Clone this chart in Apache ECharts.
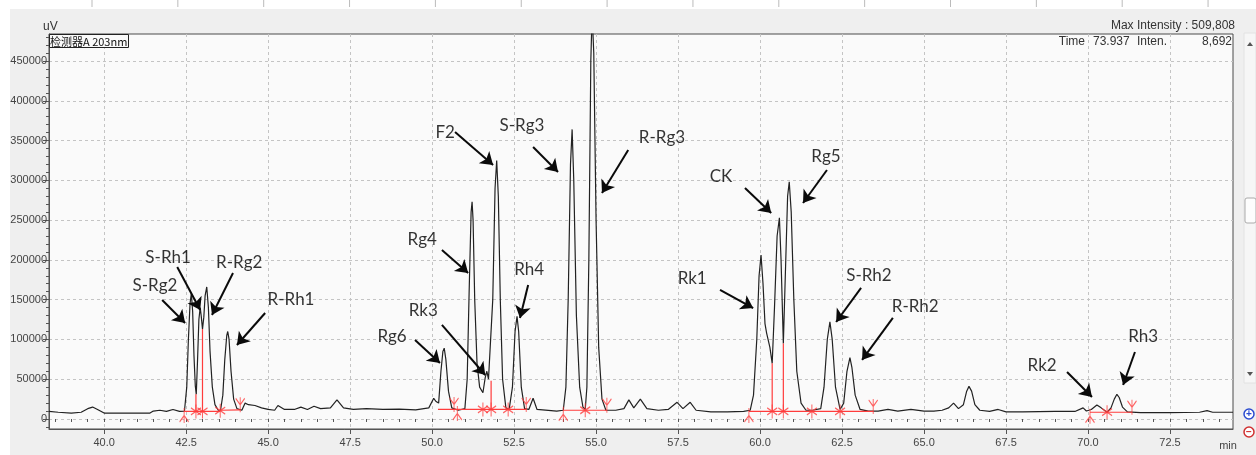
<!DOCTYPE html>
<html>
<head>
<meta charset="utf-8">
<script src="https://cdn.jsdelivr.net/npm/echarts@6/dist/echarts.min.js"></script>
<style>
html,body{margin:0;padding:0;background:#fff;}
#chart{width:1256px;height:455px;}
</style>
</head>
<body>
<div id="chart"></div>
<script>
// chromatogram trace: time (min) / signal (uV)
var traceTime = [38.32,38.60,39.00,39.30,39.50,39.65,39.80,40.00,41.40,41.50,41.70,41.90,42.10,42.30,42.45,42.52,42.57,42.62,42.66,42.70,42.74,42.78,42.81,42.85,42.89,42.93,42.96,43.00,43.04,43.08,43.13,43.18,43.23,43.30,43.38,43.48,43.55,43.62,43.68,43.74,43.77,43.81,43.87,43.95,44.05,44.20,44.30,44.40,44.60,44.80,45.00,45.20,45.30,45.50,45.80,46.00,46.20,46.40,46.60,46.90,47.10,47.30,47.60,48.00,48.50,49.00,49.50,49.90,50.05,50.12,50.20,50.27,50.33,50.37,50.42,50.50,50.60,50.80,51.00,51.07,51.13,51.19,51.22,51.25,51.30,51.37,51.45,51.55,51.62,51.67,51.72,51.78,51.85,51.92,51.97,52.02,52.08,52.15,52.25,52.35,52.45,52.53,52.59,52.64,52.72,52.82,52.95,53.08,53.20,53.80,54.00,54.08,54.15,54.22,54.27,54.32,54.40,54.50,54.60,54.67,54.72,54.78,54.84,54.88,54.93,55.00,55.08,55.18,55.30,55.60,55.85,56.00,56.15,56.35,56.55,56.90,57.20,57.47,57.65,57.87,58.05,58.50,59.00,59.50,59.70,59.80,59.90,59.97,60.03,60.09,60.15,60.20,60.24,60.30,60.37,60.44,60.52,60.59,60.64,60.71,60.77,60.84,60.89,60.95,61.03,61.12,61.25,61.40,61.60,61.85,61.95,62.05,62.13,62.20,62.30,62.44,62.55,62.65,62.74,62.80,62.90,63.05,63.30,63.60,63.90,64.20,64.60,65.00,65.30,65.55,65.75,65.90,66.05,66.20,66.30,66.37,66.45,66.55,66.70,67.00,67.26,67.50,68.00,69.00,69.60,69.85,69.95,70.10,70.27,70.40,70.58,70.70,70.80,70.88,70.95,71.05,71.20,71.60,72.50,73.40,73.63,73.80,74.42];
var traceSignal = [9500,8500,7500,8500,13000,15000,12000,7500,7500,10000,11000,9500,12000,9500,10000,40000,100000,145000,158000,135000,80000,42000,31000,75000,125000,140000,130000,113000,128000,155000,166000,140000,85000,40000,18000,11000,11000,30000,75000,105000,110000,100000,60000,25000,13000,11000,20000,18000,17000,14000,12000,11000,17000,12000,12000,15000,12000,16000,13000,14000,24000,14000,12000,13000,12000,12500,11500,14000,26000,22000,20000,60000,85000,89000,75000,35000,14000,11000,13000,50000,160000,260000,273000,250000,150000,70000,40000,33000,52000,60000,50000,48000,150000,290000,325000,280000,150000,50000,14000,12000,40000,110000,129000,110000,40000,13000,12000,26000,12000,10000,11000,40000,150000,320000,364000,300000,130000,40000,15000,12000,40000,200000,450000,509808,460000,250000,90000,25000,11000,11000,13000,24000,14000,25000,13000,11000,12000,21000,13000,21000,11000,9000,9000,9500,11000,30000,100000,180000,206000,170000,120000,108000,108000,90000,70000,140000,230000,253000,200000,95000,180000,280000,298000,260000,150000,60000,20000,11000,11000,13000,40000,100000,122000,100000,40000,12000,20000,60000,77000,65000,30000,12000,10000,10000,12000,10000,12000,10000,10000,11000,14000,20000,13000,18000,35000,41000,35000,18000,11000,9500,12000,9000,9000,9500,9500,14000,10000,12000,17500,14000,8500,14000,25000,31000,27000,15000,9000,8000,8000,8500,10500,8500,8500];

// peak annotations: name, label centre, arrow start, arrow tip (time, uV)
var peakNames = ['S-Rg2','S-Rh1','R-Rg2','R-Rh1','Rg6','Rg4','Rk3','F2','S-Rg3','Rh4','R-Rg3','Rk1','CK','Rg5','S-Rh2','R-Rh2','Rk2','Rh3'];
var labelPos = [[41.55,167200],[41.95,202400],[44.12,196100],[45.70,149600],[48.78,104300],[49.70,225000],[49.73,135800],[50.40,359500],[52.74,368300],[52.96,187300],[57.01,353200],[57.93,176000],[58.81,304200],[62.01,329300],[63.32,179800],[64.73,140800],[68.60,66600],[71.68,103100]];
var arrowFrom = [[41.77,149600],[42.23,191100],[43.93,183500],[44.91,133200],[49.48,99300],[50.30,212400],[50.30,118200],[50.70,360800],[53.08,341900],[52.93,168400],[55.98,338100],[58.78,162200],[59.54,290400],[62.04,313000],[63.08,164700],[64.05,127000],[69.36,59100],[71.43,84200]];
var arrowTo = [[42.47,120700],[42.93,137000],[43.29,130700],[44.05,93000],[50.24,70400],[51.10,183500],[51.62,55300],[51.86,319300],[53.84,310500],[52.68,127000],[55.18,284100],[59.79,139500],[60.34,258900],[61.31,271500],[62.32,121900],[63.11,74200],[70.12,27700],[71.07,42700]];

// integration baselines [t1, v1, t2, v2] and drop lines [t, from, to]
var baseSegments = [[42.44,9500,43.54,9500],[43.54,11000,44.15,11500],[50.18,12000,52.87,12000],[54.00,11000,55.33,11000],[59.66,9500,63.45,9500],[70.06,8500,71.34,8500]];
var dropLines = [[42.80,9500,31000],[43.00,9500,113000],[51.80,12000,48000],[60.37,9500,70000],[60.71,9500,95000]];
var startMarks = [[42.44,9500],[50.77,12000],[54.00,11000],[59.66,9500],[70.06,8500]];
var splitMarks = [[42.80,9500],[43.00,9500],[43.54,10500],[51.55,12000],[51.80,12000],[52.32,12000],[54.67,11000],[60.37,9500],[60.71,9500],[61.58,9500],[62.44,9500],[70.58,8500]];
var endMarks = [[44.15,11500],[50.67,12000],[52.87,12000],[55.33,11000],[63.45,9500],[71.34,8500]];

// axis ticks
var xMajorTicks = [40,42.5,45,47.5,50,52.5,55,57.5,60,62.5,65,67.5,70,72.5];
var yMajorTicks = [0,50000,100000,150000,200000,250000,300000,350000,400000,450000];
var xMinorTicks = [];
for (var i = 0; i < 73; i++) xMinorTicks.push(38.5 + i * 0.5);
var yMinorTicks = [];
for (var j = -1; j <= 48; j++) yMinorTicks.push(j * 10000);

var FONT = "'Liberation Sans Narrow','Liberation Sans',Arial,sans-serif";
var RED = '#ff3c3c';
var xMin = 38.32, xMax = 74.42, yMin = -12570, yMax = 483900;

function pairs(a, b) {
	return a.map(function(v, i) { return [v, b[i]]; });
}

var series = [];
series.push({
	type: 'line', name: 'trace', data: pairs(traceTime, traceSignal),
	showSymbol: false, silent: true, animation: false, z: 3,
	lineStyle: {color: '#222', width: 1.2},
	markLine: {
		silent: true, animation: false,
		symbol: ['none', 'arrow'], symbolSize: 12,
		lineStyle: {color: '#0a0a0a', width: 2, type: 'solid'},
		label: {show: false},
		data: peakNames.map(function(n, i) {
			return [{coord: arrowFrom[i]}, {coord: arrowTo[i]}];
		})
	}
});
baseSegments.forEach(function(s) {
	series.push({type: 'line', data: [[s[0], s[1]], [s[2], s[3]]], showSymbol: false, silent: true,
		animation: false, z: 4, lineStyle: {color: RED, width: 1.2}});
});
dropLines.forEach(function(s) {
	series.push({type: 'line', data: [[s[0], s[1]], [s[0], s[2]]], showSymbol: false, silent: true,
		animation: false, z: 4, lineStyle: {color: RED, width: 1.2}});
});
var markStyle = {color: 'none', borderColor: RED, borderWidth: 1.2};
series.push({type: 'scatter', data: splitMarks, silent: true, animation: false, z: 5,
	symbol: 'path://M5,0L5,12M0,3L10,9M0,9L10,3', symbolSize: [10, 14], itemStyle: markStyle});
series.push({type: 'scatter', data: startMarks, silent: true, animation: false, z: 5,
	symbol: 'path://M4,0L4,14M0,13L4,7L8,13', symbolSize: [9, 15], symbolOffset: [0, 4], itemStyle: markStyle});
series.push({type: 'scatter', data: endMarks, silent: true, animation: false, z: 5,
	symbol: 'path://M4,0L4,14M0,1L4,7L8,1', symbolSize: [9, 15], symbolOffset: [0, -5], itemStyle: markStyle});
series.push({
	type: 'scatter', silent: true, animation: false, z: 6, symbolSize: 1,
	itemStyle: {color: 'transparent'},
	label: {show: true, position: 'inside', formatter: '{b}', color: '#000', fontSize: 17, fontFamily: 'Lato'},
	data: peakNames.map(function(n, i) { return {name: n, value: labelPos[i]}; })
});

var gridLine = {show: true, lineStyle: {color: '#c4c4c4', type: [3, 3], width: 1}};
var axisCol = '#555';

var topTicks = [];
for (var k = 0; k <= 13; k++) {
	topTicks.push({type: 'line', shape: {x1: 92 + k * 85.85, y1: 0, x2: 92 + k * 85.85, y2: 7},
		style: {stroke: '#bbb', lineWidth: 1}});
}

var option = {
	backgroundColor: '#efefef',
	animation: false,
	grid: {left: 49, top: 34, right: 23, bottom: 26, show: true, backgroundColor: '#fafafa',
		borderColor: '#4a4a4a', borderWidth: 1},
	xAxis: [{
		type: 'value', min: xMin, max: xMax, position: 'bottom',
		axisLine: {show: true, onZero: false, lineStyle: {color: axisCol}},
		axisTick: {show: true, length: 5, customValues: xMajorTicks, lineStyle: {color: axisCol}},
		axisLabel: {customValues: xMajorTicks, color: '#444', fontSize: 11, fontFamily: FONT, margin: 8,
			formatter: function(v) { return v.toFixed(1); }},
		splitLine: gridLine
	}, {
		type: 'value', min: xMin, max: xMax, position: 'bottom',
		axisLine: {show: false},
		axisTick: {show: true, length: 3, customValues: xMinorTicks, lineStyle: {color: axisCol}},
		axisLabel: {show: false}, splitLine: {show: false}
	}],
	yAxis: [{
		type: 'value', min: yMin, max: yMax, position: 'left',
		axisLine: {show: true, onZero: false, lineStyle: {color: axisCol}},
		axisTick: {show: true, length: 6, customValues: yMajorTicks, lineStyle: {color: axisCol}},
		axisLabel: {customValues: yMajorTicks, color: '#444', fontSize: 11, fontFamily: FONT, margin: 2,
			formatter: function(v) { return String(v); }},
		splitLine: gridLine
	}, {
		type: 'value', min: yMin, max: yMax, position: 'left',
		axisLine: {show: false},
		axisTick: {show: true, length: 3, customValues: yMinorTicks, lineStyle: {color: axisCol}},
		axisLabel: {show: false}, splitLine: {show: false}
	}],
	series: series,
	graphic: [
		{type: 'rect', shape: {x: 0, y: 0, width: 1256, height: 9}, style: {fill: '#fff'}, silent: true},
		{type: 'rect', shape: {x: 0, y: 0, width: 10, height: 455}, style: {fill: '#fff'}, silent: true},
		{type: 'group', children: topTicks, silent: true},
		{type: 'text', x: 43, y: 27, style: {text: 'uV', fontSize: 12, fontFamily: FONT, fill: '#333', verticalAlign: 'middle'}},
		{type: 'rect', shape: {x: 49.5, y: 34.5, width: 79, height: 13}, style: {fill: '#fafafa', stroke: '#222', lineWidth: 1}, z: 10},
		{type: 'text', x: 50, y: 41.5, z: 11, style: {text: '检测器A 203nm', fontSize: 11, fontFamily: "'Noto Sans CJK SC',sans-serif", fill: '#111', verticalAlign: 'middle'}},
		{type: 'text', x: 1235, y: 26, style: {text: 'Max Intensity : 509,808', fontSize: 12, fontFamily: FONT, fill: '#333', align: 'right', verticalAlign: 'middle'}},
		{type: 'text', x: 1085, y: 42, z: 10, style: {text: 'Time', fontSize: 12, fontFamily: FONT, fill: '#333', align: 'right', verticalAlign: 'middle'}},
		{type: 'text', x: 1093, y: 42, z: 10, style: {text: '73.937', fontSize: 12, fontFamily: FONT, fill: '#333', verticalAlign: 'middle'}},
		{type: 'text', x: 1137, y: 42, z: 10, style: {text: 'Inten.', fontSize: 12, fontFamily: FONT, fill: '#333', verticalAlign: 'middle'}},
		{type: 'text', x: 1232, y: 42, z: 10, style: {text: '8,692', fontSize: 12, fontFamily: FONT, fill: '#333', align: 'right', verticalAlign: 'middle'}},
		{type: 'text', x: 1228, y: 446, style: {text: 'min', fontSize: 11, fontFamily: FONT, fill: '#444', align: 'center', verticalAlign: 'middle'}},
		// scroll bar at the right
		{type: 'rect', shape: {x: 1244, y: 33, width: 12, height: 350}, style: {fill: '#f6f6f6', stroke: '#e2e2e2'}},
		{type: 'polygon', shape: {points: [[1247, 46], [1253, 46], [1250, 42]]}, style: {fill: '#555'}},
		{type: 'polygon', shape: {points: [[1247, 372], [1253, 372], [1250, 376]]}, style: {fill: '#555'}},
		{type: 'rect', shape: {x: 1245, y: 198, width: 11, height: 25, r: 2}, style: {fill: '#fdfdfd', stroke: '#aaa'}},
		{type: 'circle', shape: {cx: 1249, cy: 414, r: 5}, style: {fill: '#fff', stroke: '#2a4bd0', lineWidth: 1.5}},
		{type: 'text', x: 1249, y: 414, style: {text: '+', fontSize: 10, fill: '#2a4bd0', align: 'center', verticalAlign: 'middle', fontWeight: 'bold'}},
		{type: 'circle', shape: {cx: 1249, cy: 432, r: 5}, style: {fill: '#fff', stroke: '#d03030', lineWidth: 1.5}},
		{type: 'text', x: 1249, y: 432, style: {text: '−', fontSize: 10, fill: '#d03030', align: 'center', verticalAlign: 'middle', fontWeight: 'bold'}}
	]
};

var chart = echarts.init(document.getElementById('chart'));
chart.setOption(option);
</script>
</body>
</html>
